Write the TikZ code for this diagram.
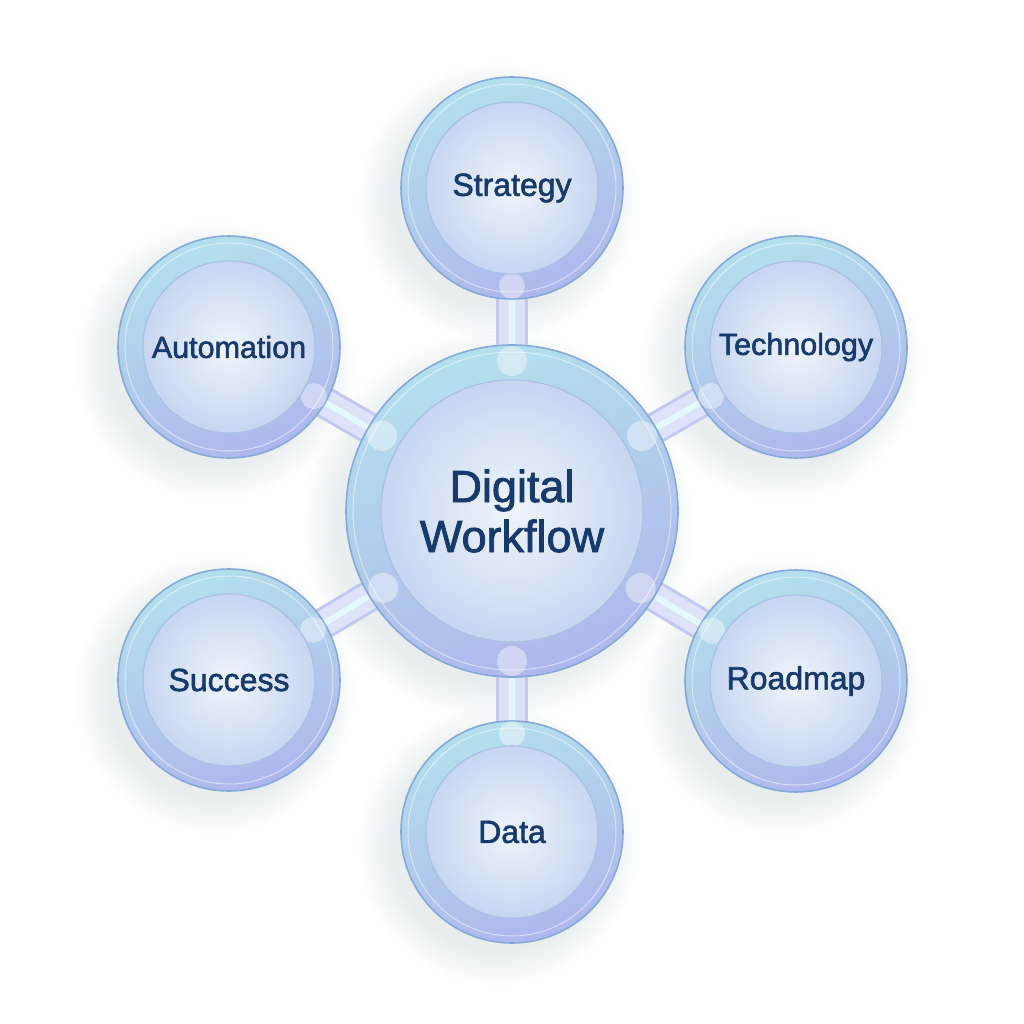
\documentclass[tikz,border=0pt]{standalone}
\usepackage{fontspec}
\newfontfamily\lab{Liberation Sans}[FakeBold=1.8]
\usetikzlibrary{calc}
\pgfdeclarelayer{bg}
\pgfdeclarelayer{shadow}
\pgfdeclarelayer{tubes}
\pgfsetlayers{bg,shadow,tubes,main}
\definecolor{ringtop}{HTML}{B3E0EC}
\definecolor{ringbot}{HTML}{AFB7EC}
\definecolor{ringline}{HTML}{86A9DA}
\definecolor{discin}{HTML}{EFF4FB}
\definecolor{discout}{HTML}{C6D6F1}
\definecolor{discline}{HTML}{A9C2E6}
\definecolor{txt}{HTML}{163A6C}
\definecolor{tubeedge}{HTML}{C2C9EF}
\definecolor{tubefill}{HTML}{DEE3F9}
\definecolor{tubecore}{HTML}{E6F8FF}
\definecolor{shadowc}{HTML}{8A9AB5}
\tikzset{
  ringnode/.style={circle, inner sep=0pt, draw=ringline, line width=1.6pt,
    top color=ringtop, bottom color=ringbot, shading angle=20},
  discnode/.style={circle, inner sep=0pt, draw=discline, line width=1.2pt,
    inner color=discin, outer color=discout, text=txt},
  satring/.style={ringnode, minimum size=222pt},
  satdisc/.style={discnode, minimum size=172pt, font=\lab\fontsize{32}{38}\selectfont},
  rimline/.style={draw=white, line width=1pt, opacity=0.5},
  tubeout/.style={draw=tubeedge, line width=32pt},
  tubein/.style={draw=tubefill, line width=26pt},
  tubecoreline/.style={draw=tubecore, line width=6pt},
  joint/.style={fill=white, opacity=0.4},
  shadowdisc/.style={fill=shadowc, opacity=0.018}
}
\begin{document}
\begin{tikzpicture}[x=1pt,y=-1pt]
\begin{pgfonlayer}{bg}
\fill[white] (0,0) rectangle (1024,1024);
\end{pgfonlayer}
\useasboundingbox (0,0) rectangle (1024,1024);

% rings
\node[ringnode, minimum size=332pt] (ringC) at (512,511) {};
\node[satring] (ringS) at (512,188) {};
\node[satring] (ringT) at (796,347) {};
\node[satring] (ringR) at (796,681) {};
\node[satring] (ringD) at (512,832) {};
\node[satring] (ringU) at (229,680) {};
\node[satring] (ringA) at (229,347) {};

% rim highlights
\draw[rimline] (ringC.center) circle (159pt);
\foreach \n in {S,T,R,D,U,A}{
  \draw[rimline] (ring\n.center) circle (104pt);
}

% shadows
\begin{pgfonlayer}{shadow}
\foreach \n/\r in {C/166,S/111,T/111,R/111,D/111,U/111,A/111}{
  \foreach \e in {-4,0,4,8,12,16,20,24,28}{
    \fill[shadowdisc] ($(ring\n.center)+(-14,14)$) circle ({\r+\e});
  }
}
\end{pgfonlayer}

% connectors
\begin{pgfonlayer}{tubes}
\foreach \n in {S,T,R,D,U,A}{
  \draw[tubeout] (ringC.center) -- (ring\n.center);
  \draw[tubein] (ringC.center) -- (ring\n.center);
  \draw[tubecoreline] (ringC.center) -- (ring\n.center);
}
\end{pgfonlayer}

% joints where tubes meet rings
\foreach \n in {S,T,R,D,U,A}{
  \fill[joint] ($(ringC.center)!150pt!(ring\n.center)$) circle (15pt);
  \fill[joint] ($(ring\n.center)!98pt!(ringC.center)$) circle (13pt);
}

% discs with labels
\node[discnode, minimum size=262pt, align=center,
  font=\lab\fontsize{45}{50}\selectfont] (discC) at (ringC.center) {Digital\\Workflow};
\node[satdisc] (discS) at (ringS.center) {Strategy};
\node[satdisc, font=\lab\fontsize{30.5}{36}\selectfont] (discT) at (ringT.center) {Technology};
\node[satdisc] (discR) at (ringR.center) {Roadmap};
\node[satdisc] (discD) at (ringD.center) {Data};
\node[satdisc] (discU) at (ringU.center) {Success};
\node[satdisc, font=\lab\fontsize{30.5}{36}\selectfont] (discA) at (ringA.center) {Automation};
\end{tikzpicture}
\end{document}
